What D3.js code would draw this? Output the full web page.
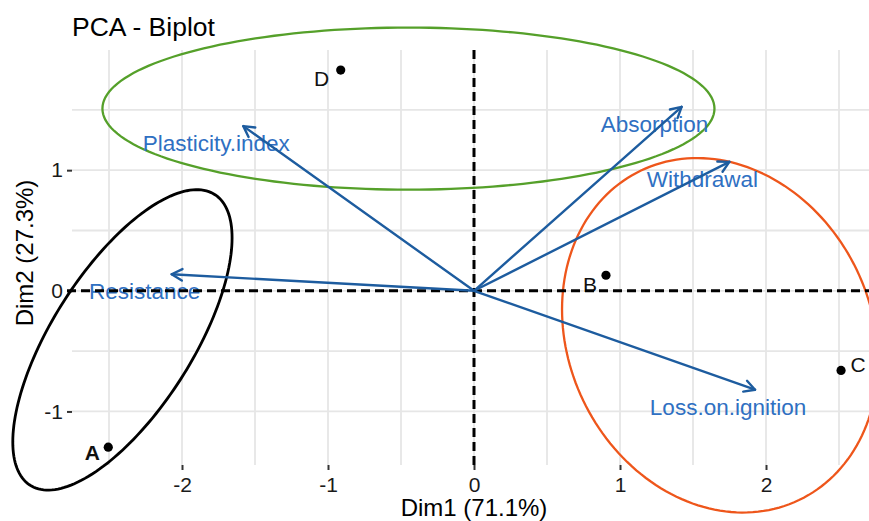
<!DOCTYPE html>
<html>
<head>
<meta charset="utf-8">
<script src="https://cdn.jsdelivr.net/npm/d3@7"></script>
<style>
  html, body { margin: 0; padding: 0; background: #fff; }
  svg { display: block; font-family: "Liberation Sans", Arial, sans-serif; }
</style>
</head>
<body>
<svg id="chart" width="869" height="521"></svg>
<script>
// Individuals (scores on Dim1 / Dim2)
const individuals = ["A", "B", "C", "D"];
const indDim1 = [-2.505, 0.904, 2.514, -0.913];
const indDim2 = [-1.296, 0.129, -0.660, 1.830];

// Variables (loadings, drawn as arrows from the origin)
const variables = ["Plasticity.index", "Resistance", "Absorption", "Withdrawal", "Loss.on.ignition"];
const varDim1 = [-1.580, -2.071, 1.422, 1.749, 1.925];
const varDim2 = [1.365, 0.137, 1.525, 1.069, -0.820];

// Group ellipses: centre, half extents along each axis, and correlation
const ellipseCx = [-2.408, -0.449, 1.685];
const ellipseCy = [-0.407, 1.510, -0.369];
const ellipseRx = [0.751, 2.096, 1.082];
const ellipseRy = [1.245, 0.672, 1.469];
const ellipseR  = [0.679, 0.0, -0.146];

// Axis ticks and grid
const xTicks = [-2, -1, 0, 1, 2];
const yTicks = [-1, 0, 1];
const gridStep = 0.5;

const ellipseColors = ["#000000", "#55a02a", "#ee561b"];
const ellipseWidths = [2.8, 2.3, 2.3];
const arrowColor = "#1d5c9f";
const varLabelColor = "#2f70c2";

// Label placement offsets in pixels
const varLabelOffset = [-27, 17];
const indLabelOffset = { A: [-16, 6], B: [-16, 9], C: [17, -6], D: [-19, 9] };

const svg = d3.select("#chart");
const panel = { left: 72, right: 869, top: 50, bottom: 465 };

const x = d3.scaleLinear()
  .domain([(panel.left - 474) / 146, (panel.right - 474) / 146])
  .range([panel.left, panel.right]);
const y = d3.scaleLinear()
  .domain([-1.444, 1.996])
  .range([panel.bottom, panel.top]);

// Grid lines every half unit
const gx = d3.range(Math.ceil(x.domain()[0] / gridStep), Math.floor(x.domain()[1] / gridStep) + 1).map(k => k * gridStep);
const gy = d3.range(Math.ceil(y.domain()[0] / gridStep), Math.floor(y.domain()[1] / gridStep) + 1).map(k => k * gridStep);

const grid = svg.append("g").attr("stroke", "#e6e6e6").attr("stroke-width", 1.8);
grid.selectAll("line.gx").data(gx).join("line")
  .attr("x1", d => x(d)).attr("x2", d => x(d))
  .attr("y1", panel.top).attr("y2", panel.bottom);
grid.selectAll("line.gy").data(gy).join("line")
  .attr("y1", d => y(d)).attr("y2", d => y(d))
  .attr("x1", panel.left).attr("x2", panel.right);

// Axes: ticks and labels only (plain hyphen for negatives)
const fmt = d => String(d);
const xAxis = d3.axisBottom(x).tickValues(xTicks).tickSize(5).tickPadding(3).tickFormat(fmt);
const yAxis = d3.axisLeft(y).tickValues(yTicks).tickSize(5).tickPadding(4).tickFormat(fmt);

const gxAxis = svg.append("g").attr("transform", `translate(0,${panel.bottom})`).call(xAxis);
const gyAxis = svg.append("g").attr("transform", `translate(${panel.left},0)`).call(yAxis);
[gxAxis, gyAxis].forEach(g => {
  g.select(".domain").remove();
  g.selectAll(".tick line").attr("stroke", "#333").attr("stroke-width", 2);
  g.selectAll(".tick text").attr("fill", "#1a1a1a").attr("font-size", 21)
    .attr("font-family", "Liberation Sans, Arial, sans-serif");
});
gxAxis.selectAll(".tick text").attr("dy", "0.9em");

// Ellipses
const ellipseData = ellipseCx.map((cx, i) => ({
  cx, cy: ellipseCy[i], rx: ellipseRx[i], ry: ellipseRy[i], r: ellipseR[i],
  color: ellipseColors[i], width: ellipseWidths[i]
}));
const line = d3.line().x(p => x(p[0])).y(p => y(p[1])).curve(d3.curveLinearClosed);
svg.append("g").selectAll("path").data(ellipseData).join("path")
  .attr("fill", "none")
  .attr("stroke", d => d.color)
  .attr("stroke-width", d => d.width)
  .attr("d", d => {
    const pts = d3.range(0, 360, 2).map(a => {
      const t = a * Math.PI / 180;
      return [d.cx + d.rx * Math.cos(t),
              d.cy + d.ry * (d.r * Math.cos(t) + Math.sqrt(1 - d.r * d.r) * Math.sin(t))];
    });
    return line(pts);
  });

// Variable labels
const varData = variables.map((name, i) => ({ name, d1: varDim1[i], d2: varDim2[i] }));
svg.append("g").selectAll("text").data(varData).join("text")
  .attr("x", d => x(d.d1) + varLabelOffset[0])
  .attr("y", d => y(d.d2) + varLabelOffset[1])
  .attr("dy", "0.35em")
  .attr("text-anchor", "middle")
  .attr("font-size", 22.5)
  .attr("fill", varLabelColor)
  .text(d => d.name);

// Individual labels
const indData = individuals.map((name, i) => ({ name, d1: indDim1[i], d2: indDim2[i] }));
svg.append("g").selectAll("text").data(indData).join("text")
  .attr("x", d => x(d.d1) + indLabelOffset[d.name][0])
  .attr("y", d => y(d.d2) + indLabelOffset[d.name][1])
  .attr("dy", "0.35em")
  .attr("text-anchor", "middle")
  .attr("font-size", 21)
  .attr("font-weight", d => d.name === "A" ? "bold" : "normal")
  .attr("fill", "#111")
  .text(d => d.name);

// Reference lines through the origin
const ref = svg.append("g").attr("stroke", "#000").attr("stroke-width", 3).attr("stroke-dasharray", "9,5");
ref.append("line").attr("x1", x(0)).attr("x2", x(0)).attr("y1", panel.top).attr("y2", panel.bottom);
ref.append("line").attr("y1", y(0)).attr("y2", y(0)).attr("x1", panel.left - 5).attr("x2", panel.right);

// Arrows
const arrows = svg.append("g").attr("stroke", arrowColor).attr("stroke-width", 2.4)
  .attr("fill", "none").attr("stroke-linecap", "round");
varData.forEach(d => {
  const x0 = x(0), y0 = y(0), x1 = x(d.d1), y1 = y(d.d2);
  arrows.append("line").attr("x1", x0).attr("y1", y0).attr("x2", x1).attr("y2", y1);
  const ang = Math.atan2(y1 - y0, x1 - x0);
  const len = 12, spread = 0.5;
  const p = [
    [x1 - len * Math.cos(ang - spread), y1 - len * Math.sin(ang - spread)],
    [x1, y1],
    [x1 - len * Math.cos(ang + spread), y1 - len * Math.sin(ang + spread)]
  ];
  arrows.append("path").attr("d", d3.line()(p)).attr("stroke-linejoin", "round");
});

// Individual points
svg.append("g").selectAll("circle").data(indData).join("circle")
  .attr("cx", d => x(d.d1)).attr("cy", d => y(d.d2)).attr("r", 4.6).attr("fill", "#000");

// Titles
svg.append("text").attr("x", 72).attr("y", 36).attr("font-size", 26.5).attr("fill", "#000")
  .text("PCA - Biplot");
svg.append("text").attr("x", x(0)).attr("y", 516).attr("text-anchor", "middle")
  .attr("font-size", 24).attr("fill", "#000").text("Dim1 (71.1%)");
svg.append("text").attr("transform", `translate(33,${253}) rotate(-90)`).attr("text-anchor", "middle")
  .attr("font-size", 24).attr("fill", "#000").text("Dim2 (27.3%)");
</script>
</body>
</html>
